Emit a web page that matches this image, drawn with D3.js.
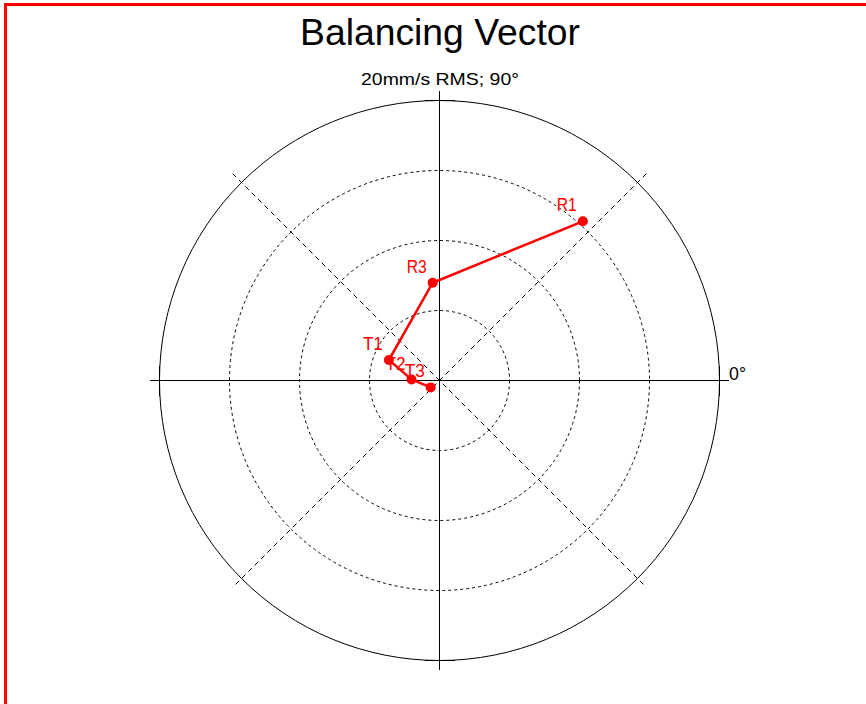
<!DOCTYPE html>
<html>
<head>
<meta charset="utf-8">
<script src="https://cdn.jsdelivr.net/npm/d3@7"></script>
<style>
  html, body { margin: 0; padding: 0; background: #fff; }
  svg { display: block; }
  text { font-family: "Liberation Sans", Arial, sans-serif; }
</style>
</head>
<body>
<svg id="chart" width="866" height="704"></svg>
<script>
// Balancing vector readings: amplitude in mm/s RMS, phase in degrees (0° = right, CCW positive)
const pointLabels = ["R1", "R3", "T1", "T2", "T3"];
const amplitudes = [15.3, 7.0, 3.9, 2.0, 0.8];
const phases = [48, 94, 158, 178, 218];

// Polar grid settings
const fullScale = 20;               // mm/s at the outer ring
const ringValues = [5, 10, 15];     // dashed inner rings
const diagonalAngles = [45, 135];   // dashed guide lines
const titleText = "Balancing Vector";
const scaleText = "20mm/s RMS; 90°";
const zeroText = "0°";

const svg = d3.select("#chart");
const cx = 439.5, cy = 380.5, R = 280;

const r = d3.scaleLinear().domain([0, fullScale]).range([0, R]);
const toXY = (amp, deg) => {
  const a = deg * Math.PI / 180;
  return [cx + r(amp) * Math.cos(a), cy - r(amp) * Math.sin(a)];
};

// Frame
svg.append("rect")
  .attr("x", 5.5).attr("y", 4.5)
  .attr("width", 900).attr("height", 800)
  .attr("fill", "none").attr("stroke", "#ff0000").attr("stroke-width", 3);

// Title
svg.append("text")
  .attr("x", 440).attr("y", 45)
  .attr("text-anchor", "middle")
  .attr("font-size", 36)
  .attr("textLength", 280)
  .attr("lengthAdjust", "spacingAndGlyphs")
  .attr("fill", "#000")
  .text(titleText);

const grid = svg.append("g");

// Dashed inner rings
grid.selectAll("circle.ring")
  .data(ringValues)
  .join("circle")
  .attr("class", "ring")
  .attr("cx", cx).attr("cy", cy)
  .attr("r", d => r(d))
  .attr("fill", "none")
  .attr("stroke", "#000")
  .attr("stroke-width", 1)
  .attr("stroke-dasharray", "3,3");

// Dashed diagonals
const diagLen = fullScale * 1.045;
grid.selectAll("line.diag")
  .data(diagonalAngles)
  .join("line")
  .attr("class", "diag")
  .attr("x1", d => toXY(diagLen, d)[0]).attr("y1", d => toXY(diagLen, d)[1])
  .attr("x2", d => toXY(diagLen, d + 180)[0]).attr("y2", d => toXY(diagLen, d + 180)[1])
  .attr("stroke", "#000")
  .attr("stroke-width", 1)
  .attr("stroke-dasharray", "5,4");

// Outer ring
grid.append("circle")
  .attr("cx", cx).attr("cy", cy).attr("r", r(fullScale))
  .attr("fill", "none").attr("stroke", "#000").attr("stroke-width", 1);

// Main axes, extending a little past the outer ring
const axisLen = fullScale * 1.035;
[0, 90].forEach(d => {
  const p1 = toXY(axisLen, d), p2 = toXY(axisLen, d + 180);
  grid.append("line")
    .attr("x1", p1[0]).attr("y1", p1[1]).attr("x2", p2[0]).attr("y2", p2[1])
    .attr("stroke", "#000").attr("stroke-width", 1)
    .attr("shape-rendering", "crispEdges");
});

// Tick marks where the axes cross the outer ring
[0, 90, 180, 270].forEach(d => {
  const [px, py] = toXY(fullScale, d);
  const a = d * Math.PI / 180, h = 15;
  grid.append("line")
    .attr("x1", px - h * Math.sin(a)).attr("y1", py - h * Math.cos(a))
    .attr("x2", px + h * Math.sin(a)).attr("y2", py + h * Math.cos(a))
    .attr("stroke", "#000").attr("stroke-width", 1)
    .attr("shape-rendering", "crispEdges");
});

// Axis annotations
svg.append("text")
  .attr("x", 440).attr("y", 85)
  .attr("text-anchor", "middle")
  .attr("font-size", 17)
  .attr("textLength", 158)
  .attr("lengthAdjust", "spacingAndGlyphs")
  .text(scaleText);

svg.append("text")
  .attr("x", 729).attr("y", 380)
  .attr("font-size", 19)
  .attr("textLength", 17)
  .attr("lengthAdjust", "spacingAndGlyphs")
  .text(zeroText);

// Vector trail
const pts = amplitudes.map((a, i) => {
  const [x, y] = toXY(a, phases[i]);
  return { x, y, label: pointLabels[i] };
});

svg.append("path")
  .attr("d", d3.line().x(d => d.x).y(d => d.y)(pts))
  .attr("fill", "none")
  .attr("stroke", "#ff0000")
  .attr("stroke-width", 2.5);

// Markers and labels, drawn last-to-first so earlier markers sit on top
const marks = svg.append("g");
pts.slice().reverse().forEach(p => {
  marks.append("circle")
    .attr("cx", p.x).attr("cy", p.y).attr("r", 5)
    .attr("fill", "#ff0000");
  marks.append("text")
    .attr("x", p.x - 6).attr("y", p.y - 10)
    .attr("text-anchor", "end")
    .attr("font-size", 18)
    .attr("textLength", 20)
    .attr("lengthAdjust", "spacingAndGlyphs")
    .attr("fill", "#ff0000")
    .text(p.label);
});
</script>
</body>
</html>
